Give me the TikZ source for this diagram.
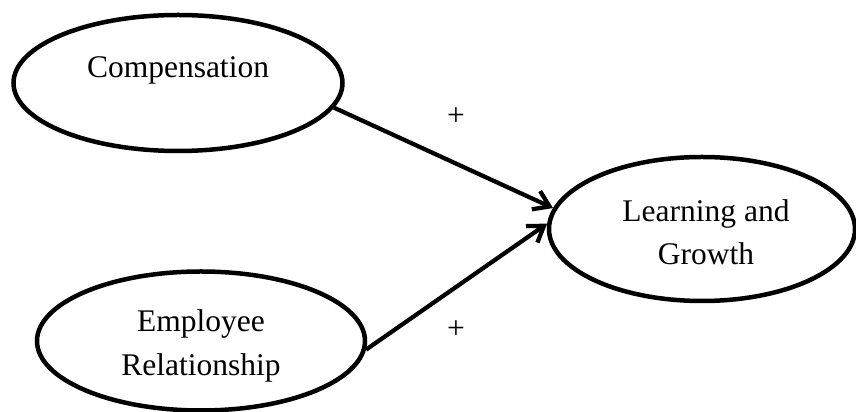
\documentclass[tikz,border=0pt]{standalone}
\usepackage{fontspec}
\setmainfont{Liberation Serif}
\usetikzlibrary{positioning,arrows.meta,shapes}

\begin{document}
\begin{tikzpicture}[x=0.4pt, y=-0.4pt,
    construct/.style={ellipse, draw=black, line width=1.8pt, inner sep=0pt},
    effect/.style={line width=1.7pt, -{Straight Barb[length=6pt,width=8pt]}},
    txt/.style={font=\fontsize{12.6pt}{17.4pt}\selectfont, align=center}]
  \useasboundingbox (0,0) rectangle (856,412);
  \node[construct, minimum width=131.6pt, minimum height=54.4pt] (comp) at (178,83) {};
  \node[construct, minimum width=131.2pt, minimum height=55.6pt] (empl) at (201,341) {};
  \node[construct, minimum width=122.4pt, minimum height=57.6pt] (learn) at (702,229) {};
  \node[txt] (comptxt) at (178,70) {Compensation};
  \node[txt] (empltxt) at (201,346) {Employee\\Relationship};
  \node[txt] (learntxt) at (706,232) {Learning and\\Growth};
  \draw[effect] (comp.-9) -- (learn.172);
  \draw[effect] (empl.-3) -- (learn.178);
  \node[txt] (plusa) at (456,117) {+};
  \node[txt] (plusb) at (456,330) {+};
  % \draw[red] (0,0) grid (856,412);
\end{tikzpicture}
\end{document}
